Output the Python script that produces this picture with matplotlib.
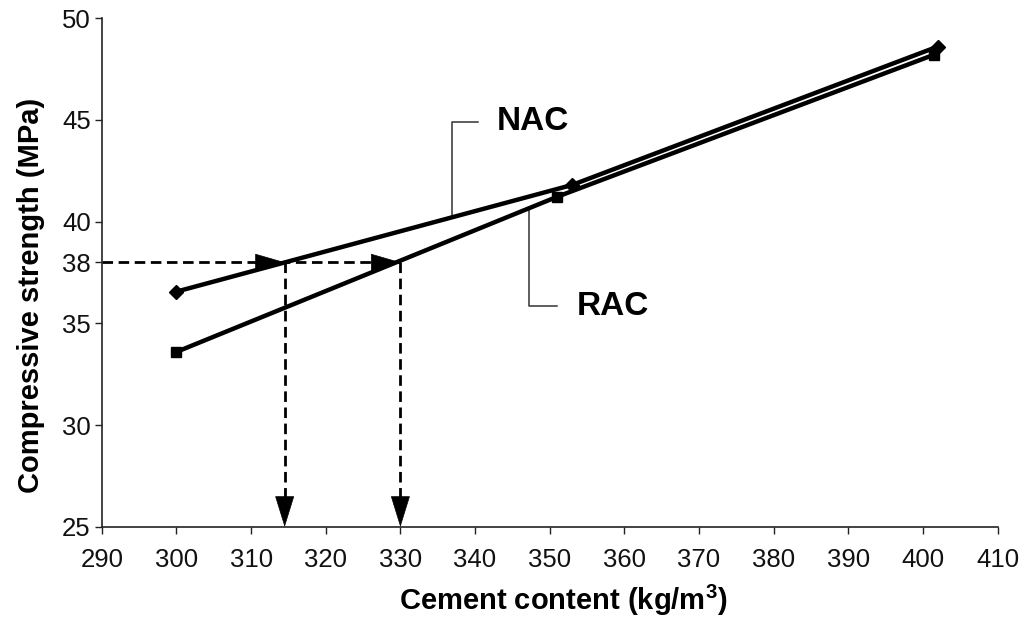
import matplotlib
matplotlib.use("Agg")
import matplotlib.pyplot as plt

# Data
cement_nac = [300, 353, 402]
strength_nac = [36.56, 41.8, 48.6]
cement_rac = [300, 351, 401.5]
strength_rac = [33.6, 41.22, 48.2]
target_strength = 38
cement_at_target = [314.5, 330.0]
x_ticks = [290, 300, 310, 320, 330, 340, 350, 360, 370, 380, 390, 400, 410]
y_ticks = [25, 30, 35, 38, 40, 45, 50]

plt.rcParams['font.family'] = ['Liberation Sans', 'DejaVu Sans']

fig = plt.figure(figsize=(10.33, 6.25), dpi=100)
ax = fig.add_axes([0.0985, 0.1568, 0.8673, 0.8144])

ax.plot(cement_nac, strength_nac, color='black', lw=3.2, marker='D', ms=7.5,
        solid_capstyle='round', zorder=3)
ax.plot(cement_rac, strength_rac, color='black', lw=3.2, marker='s', ms=7.5,
        solid_capstyle='round', zorder=3)

dash = (0, (3.8, 2.0))
# horizontal dashed line at target strength
ax.plot([x_ticks[0], cement_at_target[1]], [target_strength, target_strength],
        color='black', lw=2.0, linestyle=dash, zorder=2)
# vertical dashed lines
for cx in cement_at_target:
    ax.plot([cx, cx], [target_strength, y_ticks[0] + 1.2], color='black', lw=2.0,
            linestyle=dash, zorder=2)
    # horizontal arrow head
    ax.annotate('', xy=(cx, target_strength), xytext=(cx - 4.5, target_strength),
                arrowprops=dict(arrowstyle='-|>,head_length=2.0,head_width=0.58',
                                color='black', lw=0.5, shrinkA=0, shrinkB=0),
                annotation_clip=False, zorder=4)
    # vertical arrow head
    ax.annotate('', xy=(cx, y_ticks[0]), xytext=(cx, y_ticks[0] + 1.8),
                arrowprops=dict(arrowstyle='-|>,head_length=2.1,head_width=0.65',
                                color='black', lw=0.5, shrinkA=0, shrinkB=0),
                annotation_clip=False, zorder=4)

# leader lines and labels
ax.plot([340.4, 336.9, 336.9], [44.9, 44.9, 40.25], color='#333333', lw=1.1, zorder=2)
ax.text(342.9, 44.9, 'NAC', fontsize=24, fontweight='bold', ha='left', va='center')
ax.plot([351.0, 347.2, 347.2], [35.85, 35.85, 40.67], color='#333333', lw=1.1, zorder=2)
ax.text(353.6, 35.85, 'RAC', fontsize=24, fontweight='bold', ha='left', va='center')

ax.set_xlim(x_ticks[0], x_ticks[-1])
ax.set_ylim(y_ticks[0], y_ticks[-1])
ax.set_xticks(x_ticks)
ax.set_yticks(y_ticks)
ax.tick_params(axis='both', labelsize=18.5, length=5, width=1, direction='out',
               colors='#222222', labelcolor='#111111')
ax.tick_params(axis='x', pad=10)
ax.tick_params(axis='y', pad=3)
for s in ['top', 'right']:
    ax.spines[s].set_visible(False)
for s in ['left', 'bottom']:
    ax.spines[s].set_linewidth(1.2)
    ax.spines[s].set_color('#222222')

ax.set_xlabel('Cement content (kg/m$^\\mathregular{3}$)', fontsize=21, fontweight='bold')
ax.set_ylabel('Compressive strength (MPa)', fontsize=21, fontweight='bold')
ax.xaxis.set_label_coords(0.515, -0.11)
ax.yaxis.set_label_coords(-0.063, 0.456)

fig.savefig('out.png', dpi=100)
